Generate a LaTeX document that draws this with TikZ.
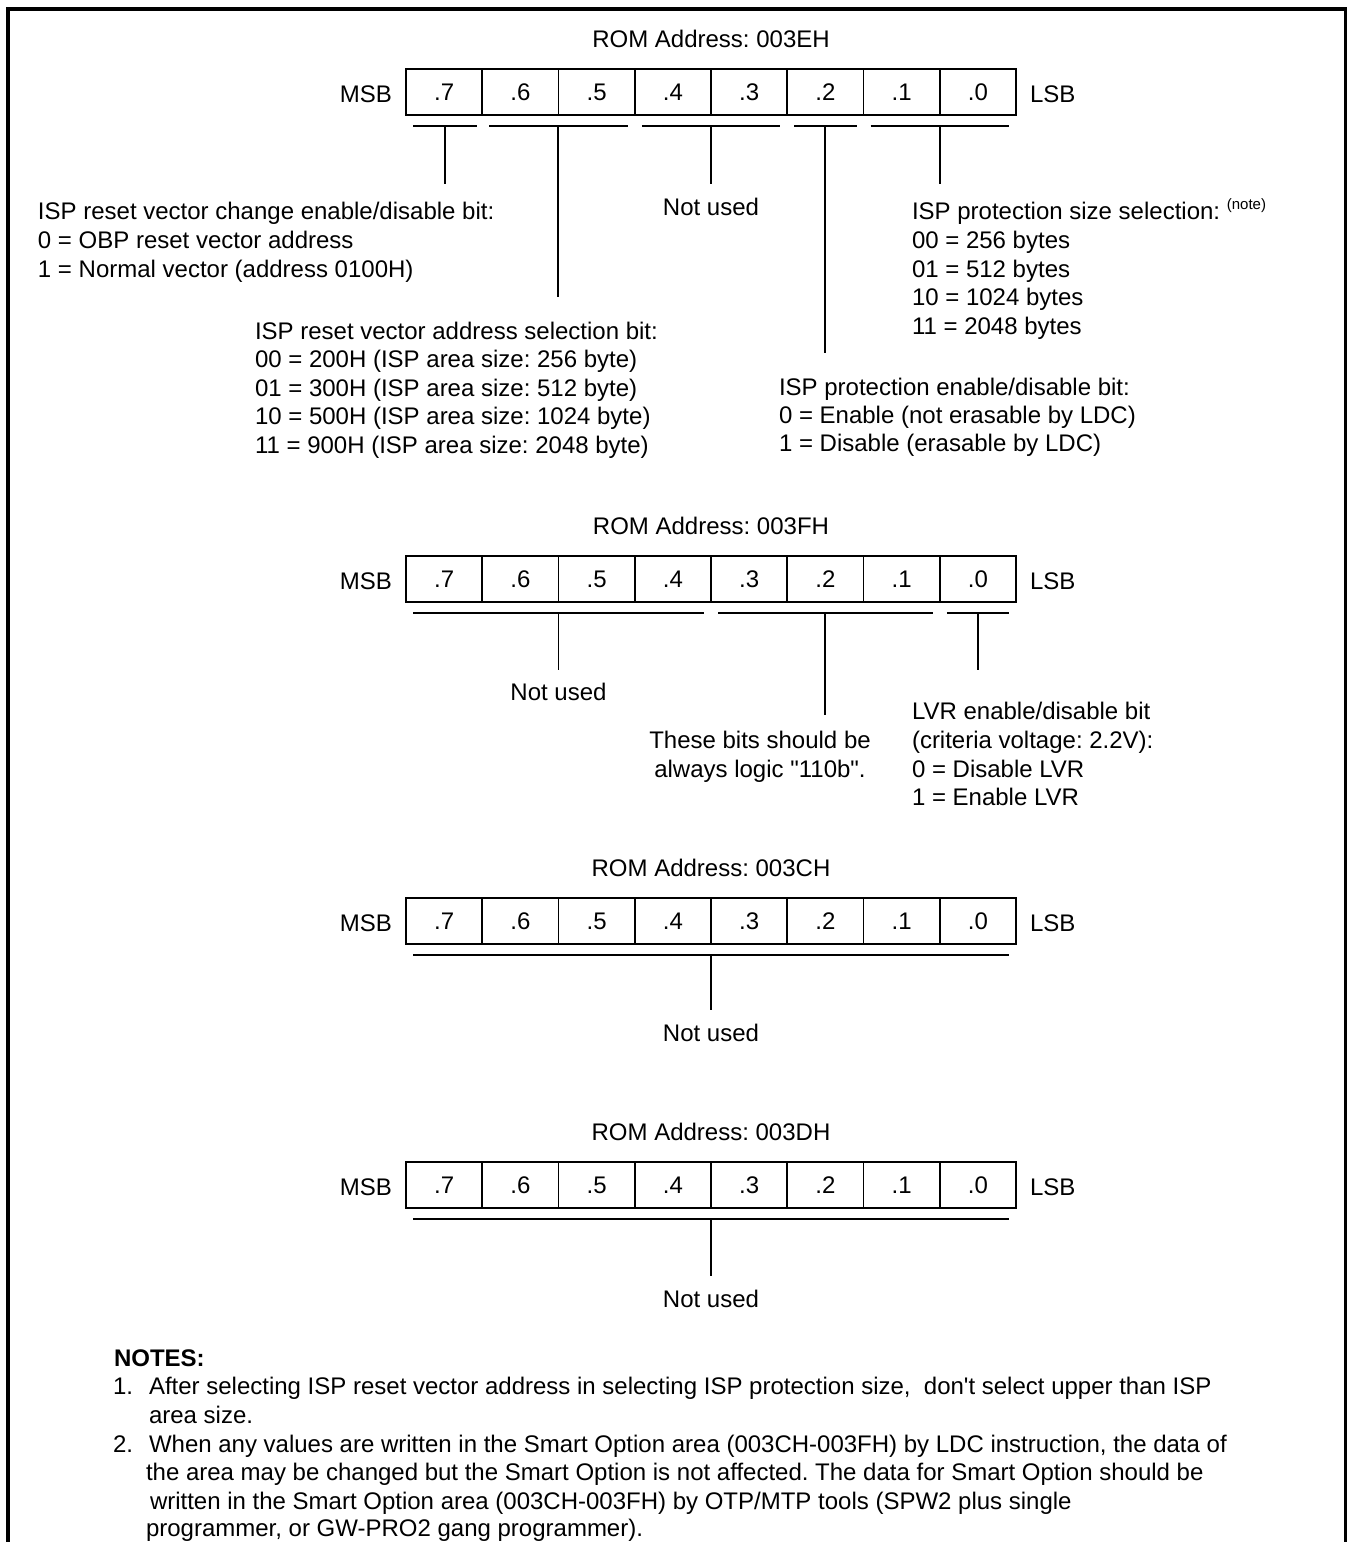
\documentclass[tikz,border=0pt]{standalone}
\usepackage{fontspec}
\setmainfont{Liberation Sans}[Ligatures=TeXOff]
\frenchspacing
\newcommand\bitrow[2]{%
  \foreach \i in {0,...,7}{%
    \pgfmathtruncatemacro\bb{7-\i}%
    \node[bitcell] (#1\i) at ({406+76.25*(\i+0.5)},{#2+23}) {.\bb};}%
  \node[lbl, anchor=base east] (#1msb) at (392,{#2+33}) {MSB};%
  \node[lbl, anchor=base west] (#1lsb) at (1030,{#2+33}) {LSB};%
}
\newcommand\groupline[5]{% name, x1, x2, y, yend
  \coordinate (#1-l) at (#2,#4);
  \coordinate (#1-r) at (#3,#4);
  \coordinate (#1-m) at ({(#2+#3)/2},#4);
  \coordinate (#1-e) at ({(#2+#3)/2},#5);
  \draw[conn] (#1-l) -- (#1-r);
  \draw[conn] (#1-m) -- (#1-e);
}
\begin{document}
\begin{tikzpicture}[x=0.5pt,y=-0.5pt,
  lbl/.style={inner sep=0pt, outer sep=0pt, font=\fontsize{12}{14.4}\selectfont, anchor=base west},
  ctr/.style={lbl, anchor=base},
  bitcell/.style={draw, line width=0.9pt, minimum width=38.125pt, minimum height=23pt, inner sep=0pt,
     font=\fontsize{12}{14.4}\selectfont},
  conn/.style={line width=0.9pt},
  frame/.style={line width=1.8pt, line join=miter}]
\useasboundingbox (0,0) rectangle (1353,1542);
\draw[frame] (8,1560) -- (8,9) -- (1345.5,9) -- (1345.5,1560);

% ---------------- ROM 003EH ----------------
\node[ctr] (Etitle) at (711,47) {ROM Address: 003EH};
\bitrow{E}{69}
\groupline{Ea}{413}{477}{126}{184}
\groupline{Eb}{489.25}{627.5}{126}{297}
\groupline{Ec}{641.75}{780.25}{126}{184}
\groupline{Ed}{794.25}{856.5}{126}{353}
\groupline{Ee}{870.5}{1009}{126}{184}

\node[lbl] (ea1) at (38,219) {ISP reset vector change enable/disable bit:};
\node[lbl] (ea2) at (38,248) {0 = OBP reset vector address};
\node[lbl] (ea3) at (38,277) {1 = Normal vector (address 0100H)};

\node[ctr] (ec1) at (711,215) {Not used};

\node[lbl] (ee1) at (912,219) {ISP protection size selection: \raisebox{5pt}{\fontsize{7.5}{9}\selectfont(note)}};
\node[lbl] (ee2) at (912,248) {00 = 256 bytes};
\node[lbl] (ee3) at (912,277) {01 = 512 bytes};
\node[lbl] (ee4) at (912,305) {10 = 1024 bytes};
\node[lbl] (ee5) at (912,334) {11 = 2048 bytes};

\node[lbl] (eb1) at (255,339) {ISP reset vector address selection bit:};
\node[lbl] (eb2) at (255,367) {00 = 200H (ISP area size: 256 byte)};
\node[lbl] (eb3) at (255,396) {01 = 300H (ISP area size: 512 byte)};
\node[lbl] (eb4) at (255,424) {10 = 500H (ISP area size: 1024 byte)};
\node[lbl] (eb5) at (255,453) {11 = 900H (ISP area size: 2048 byte)};

\node[lbl] (ed1) at (779,395) {ISP protection enable/disable bit:};
\node[lbl] (ed2) at (779,423) {0 = Enable (not erasable by LDC)};
\node[lbl] (ed3) at (779,451) {1 = Disable (erasable by LDC)};

% ---------------- ROM 003FH ----------------
\node[ctr] (Ftitle) at (711,534) {ROM Address: 003FH};
\bitrow{F}{556}
\groupline{Fa}{413}{704}{613}{670}
\groupline{Fb}{718}{932.5}{613}{715}
\groupline{Fc}{946.75}{1009}{613}{670}

\node[ctr] (fa1) at (558.5,700) {Not used};
\node[ctr] (fb1) at (760,748) {These bits should be};
\node[ctr] (fb2) at (760,777) {always logic "110b".};
\node[lbl] (fc1) at (912,719.5) {LVR enable/disable bit};
\node[lbl] (fc2) at (912,748) {(criteria voltage: 2.2V):};
\node[lbl] (fc3) at (912,777) {0 = Disable LVR};
\node[lbl] (fc4) at (912,805) {1 = Enable LVR};

% ---------------- ROM 003CH ----------------
\node[ctr] (Ctitle) at (711,876) {ROM Address: 003CH};
\bitrow{C}{898}
\groupline{Ca}{413}{1009}{955}{1010}
\node[ctr] (ca1) at (711,1041) {Not used};

% ---------------- ROM 003DH ----------------
\node[ctr] (Dtitle) at (711,1140) {ROM Address: 003DH};
\bitrow{D}{1162}
\groupline{Da}{413}{1009}{1219}{1276}
\node[ctr] (da1) at (711,1307) {Not used};

% ---------------- Notes ----------------
\node[lbl, font=\fontsize{12}{14.4}\selectfont\bfseries] (notes) at (114,1366) {NOTES:};
\node[lbl] (n1) at (113,1394) {1.};
\node[lbl] (n1a) at (149,1394) {After selecting ISP reset vector address in selecting ISP protection size,\ \ don't select upper than ISP};
\node[lbl] (n1b) at (149,1423) {area size.};
\node[lbl] (n2) at (113,1452) {2.};
\node[lbl] (n2a) at (149,1452) {When any values are written in the Smart Option area (003CH-003FH) by LDC instruction, the data of};
\node[lbl] (n2b) at (146,1480) {the area may be changed but the Smart Option is not affected. The data for Smart Option should be};
\node[lbl] (n2c) at (150,1509) {written in the Smart Option area (003CH-003FH) by OTP/MTP tools (SPW2 plus single};
\node[lbl] (n2d) at (146,1536) {programmer, or GW-PRO2 gang programmer).};
\end{tikzpicture}
\end{document}
